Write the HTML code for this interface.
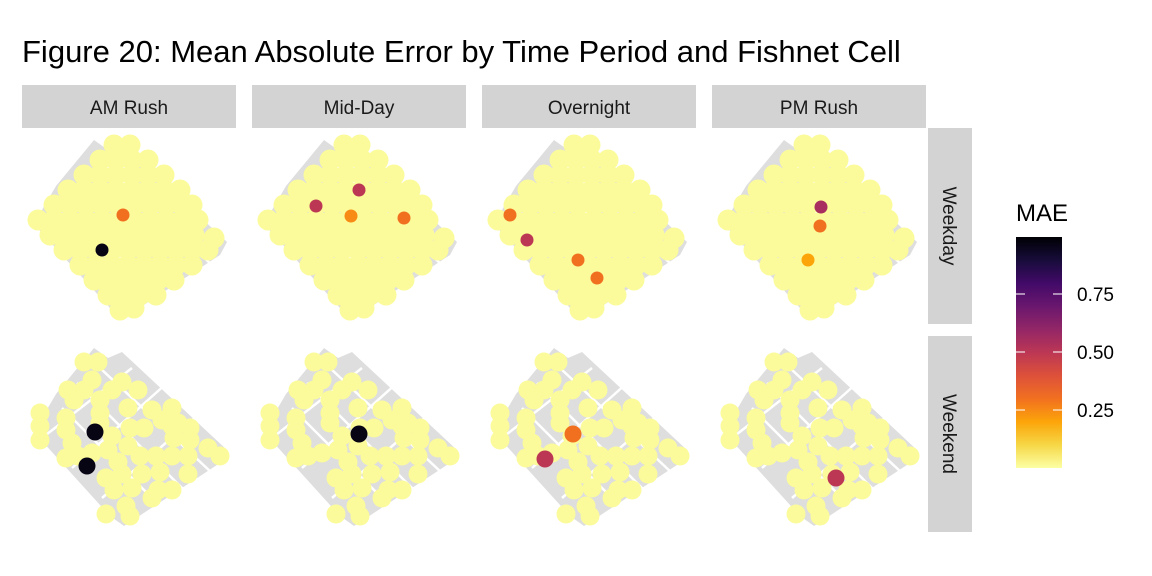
<!DOCTYPE html>
<html><head><meta charset="utf-8"><style>
body{margin:0;background:#fff;}
svg{display:block;font-family:"Liberation Sans",sans-serif;}
</style></head><body>
<svg id="chart" width="1152" height="576" viewBox="0 0 1152 576">
<defs>
<linearGradient id="inferno" x1="0" y1="1" x2="0" y2="0">
<stop offset="0" stop-color="#fcffa4"/><stop offset="0.1" stop-color="#f6d746"/>
<stop offset="0.2" stop-color="#fca50a"/><stop offset="0.3" stop-color="#f17020"/>
<stop offset="0.4" stop-color="#dd513a"/><stop offset="0.5" stop-color="#bc3754"/>
<stop offset="0.6" stop-color="#932667"/><stop offset="0.7" stop-color="#6a176e"/>
<stop offset="0.8" stop-color="#420a68"/><stop offset="0.9" stop-color="#170c3a"/>
<stop offset="1" stop-color="#000004"/>
</linearGradient>
</defs>
<text x="22" y="62" font-size="31" fill="#000">Figure 20: Mean Absolute Error by Time Period and Fishnet Cell</text>
<g id="panels"></g>
<g>
<text x="1016" y="221" font-size="24">MAE</text>
<rect x="1016" y="237" width="46" height="231" fill="url(#inferno)"/>
<g id="legendTicks"></g>
</g>
</svg>
<script>
const periods = ["AM Rush","Mid-Day","Overnight","PM Rush"];
const dayTypes = ["Weekday","Weekend"];
const legendTicks = [0.25,0.5,0.75];
const weekdayCells = [
[92,15],[108,15],[78,30],[94,30],[110,30],[126,30],[62,45],[78,45],[94,45],[110,45],[126,45],[142,45],
[46,60],[62,60],[78,60],[94,60],[110,60],[126,60],[142,60],[158,60],
[32,75],[48,75],[64,75],[80,75],[96,75],[112,75],[128,75],[144,75],[160,75],[170,75],
[16,90],[32,90],[48,90],[64,90],[80,90],[96,90],[112,90],[128,90],[144,90],[160,90],[176,90],
[28,105],[44,105],[60,105],[76,105],[92,105],[108,105],[124,105],[140,105],[156,105],[172,105],[192,108],
[42,120],[58,120],[74,120],[90,120],[106,120],[122,120],[138,120],[154,120],[170,120],[186,120],
[58,135],[74,135],[90,135],[106,135],[122,135],[138,135],[154,135],[170,135],
[72,150],[88,150],[104,150],[120,150],[136,150],[152,150],
[86,165],[102,165],[118,165],[134,165],[98,180],[112,178]
];
const weekendCells = [
[62,24],[76,24],[70,42],[46,52],[62,52],[100,44],[90,52],[116,52],[52,62],[78,62],[78,75],[106,70],
[130,72],[150,70],[18,75],[44,80],[78,85],[140,82],[156,85],[18,88],[44,92],[108,90],[122,90],[150,88],[168,90],
[18,102],[50,105],[90,98],[86,112],[106,108],[152,100],[168,102],[186,110],[198,118],[44,120],[56,118],[70,115],
[96,124],[118,118],[134,118],[150,118],[166,118],[100,136],[84,140],[120,136],[138,134],[166,136],
[92,152],[110,150],[136,152],[150,152],[104,168],[130,160],[84,176],[108,178]
];
const highlightPanels = ["AM Rush|Weekday","AM Rush|Weekday","Mid-Day|Weekday","Mid-Day|Weekday","Mid-Day|Weekday","Mid-Day|Weekday",
"Overnight|Weekday","Overnight|Weekday","Overnight|Weekday","Overnight|Weekday","PM Rush|Weekday","PM Rush|Weekday","PM Rush|Weekday",
"AM Rush|Weekend","AM Rush|Weekend","Mid-Day|Weekend","Overnight|Weekend","Overnight|Weekend","PM Rush|Weekend"];
const highlightX = [101,80,64,107,99,152,28,45,96,115,109,108,96,73,65,107,91,63,124];
const highlightY = [85,120,76,60,86,88,85,110,130,148,77,96,130,94,128,96,96,121,140];
const highlightMAE = [0.3,0.97,0.5,0.5,0.25,0.3,0.3,0.5,0.3,0.3,0.55,0.3,0.2,0.97,0.97,0.97,0.3,0.5,0.5];
const baseMAE = 0.01;

const NS="http://www.w3.org/2000/svg";
function mk(t,a,p){const e=document.createElementNS(NS,t);for(const k in a)e.setAttribute(k,a[k]);p.appendChild(e);return e;}
const stops=[[0,"#fcffa4"],[0.1,"#f6d746"],[0.2,"#fca50a"],[0.3,"#f17020"],[0.4,"#dd513a"],[0.5,"#bc3754"],[0.6,"#932667"],[0.7,"#6a176e"],[0.8,"#420a68"],[0.9,"#170c3a"],[1,"#000004"]];
function hex(h){return [1,3,5].map(i=>parseInt(h.substr(i,2),16));}
function color(v){v=Math.max(0,Math.min(1,v));for(let i=1;i<stops.length;i++){if(v<=stops[i][0]){const t=(v-stops[i-1][0])/(stops[i][0]-stops[i-1][0]);const a=hex(stops[i-1][1]),b=hex(stops[i][1]);return "rgb("+a.map((x,j)=>Math.round(x+(b[j]-x)*t)).join(",")+")";}}return stops[10][1];}
const colX=[22,252,482,712], rowY=[130,338], panelW=214, panelH=196;
const legendY=v=>468-v*232;
const g=document.getElementById("panels");
periods.forEach((p,ci)=>{
  const s=mk("rect",{x:colX[ci],y:85,width:panelW,height:43,fill:"#d3d3d3"},g);
  
  
  const t=mk("text",{x:colX[ci]+panelW/2,y:114,"text-anchor":"middle","font-size":19,fill:"#1a1a1a"},g);
  t.textContent=p;
  
  
});
dayTypes.forEach((d,ri)=>{
  const s=mk("rect",{x:928,y:rowY[ri]-2,width:44,height:196,fill:"#d3d3d3"},g);
  
  
  const cx=950,cy=rowY[ri]+96;
  const t=mk("text",{x:cx,y:cy,"text-anchor":"middle","font-size":19,fill:"#1a1a1a",transform:"rotate(90 "+cx+" "+cy+")",dy:"7"},g);
  t.textContent=d;
  
  
});
dayTypes.forEach((d,ri)=>{periods.forEach((p,ci)=>{
  const ox=colX[ci], oy=rowY[ri];
  const pg=mk("g",{transform:"translate("+ox+","+oy+")"},g);
  
  
  const map=mk("polygon",{points:"72,10 86,20 100,14 205,112 198,125 102,188 88,178 10,92 20,80 34,56",fill:"#dedede"},pg);
  
  
  [[40,70,150,180],[55,45,170,160],[78,30,190,135],[20,100,110,30],[50,130,145,45],[80,160,175,78]].forEach(l=>{
    const ln=mk("line",{x1:l[0],y1:l[1],x2:l[2],y2:l[3],stroke:"#fff","stroke-width":2.5},pg);
    
    
  });
  const cells = ri===0?weekdayCells:weekendCells;
  const r = ri===0?10.5:9.5;
  cells.forEach(c=>{
    const e=mk("circle",{cx:c[0],cy:c[1],r:r,fill:color(baseMAE)},pg);
    
    
  });
  const key=p+"|"+d;
  highlightPanels.forEach((k,i)=>{
    if(k!==key)return;
    const e=mk("circle",{cx:highlightX[i],cy:highlightY[i],r:ri===0?6.5:8.5,fill:color(highlightMAE[i])},pg);
    
    
  });
});});
const lt=document.getElementById("legendTicks");
legendTicks.forEach(v=>{
  const y=legendY(v);
  [[1016,1025],[1053,1062]].forEach(xx=>{
    const l=mk("line",{x1:xx[0],x2:xx[1],y1:y,y2:y,stroke:"#fff","stroke-opacity":0.7,"stroke-width":1.5},lt);
    
    
  });
  const t=mk("text",{x:1077,y:y+7,"font-size":19,fill:"#000"},lt);
  t.textContent=v.toFixed(2);
  
  
});
</script>
</body></html>
